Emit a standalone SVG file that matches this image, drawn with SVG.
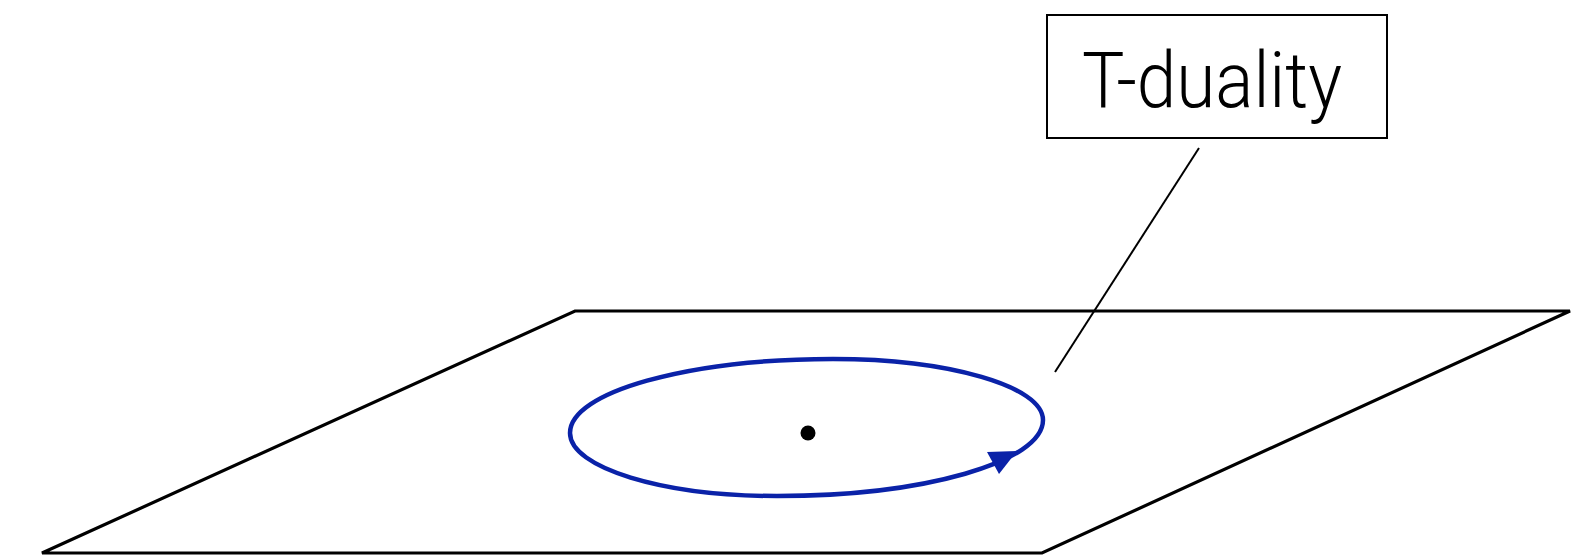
<svg xmlns="http://www.w3.org/2000/svg" width="1573" height="556" viewBox="0 0 1573 556">
<style>
.plane{fill:none;stroke:#000;stroke-width:3.2;stroke-linejoin:miter}
.orbit{fill:none;stroke:#0a22a8;stroke-width:4.5}
.box{fill:#fff;stroke:#000;stroke-width:2}
.label{font-family:Roboto,"Liberation Sans",sans-serif;font-weight:300;font-size:78px;fill:#000}
.leader{stroke:#000;stroke-width:2;fill:none}
</style>
<rect width="1573" height="556" fill="#fff"/>
<g id="plane">
<polygon class="plane" points="575,311 1570,311 1042,553 42,553"/>
</g>
<g id="orbit">
<path class="orbit" d="M570,433 C570,392.1 687.7,359 833,359 C949,359 1043,386.3 1043,420 C1043,462 923.9,496 777,496 C662.7,496 570,467.8 570,433 Z"/>
<polygon points="987,452 999,474 1017,451" fill="#0a22a8"/>
</g>
<g id="point">
<circle cx="808" cy="433" r="7.5" fill="#000"/>
</g>
<g id="connectors">
<line class="leader" x1="1199" y1="148" x2="1055" y2="372"/>
</g>
<g id="label-tduality">
<rect class="box" x="1047" y="15" width="340" height="123"/>
<text class="label" x="1082" y="107" textLength="260" lengthAdjust="spacingAndGlyphs">T-duality</text>
</g>
</svg>
